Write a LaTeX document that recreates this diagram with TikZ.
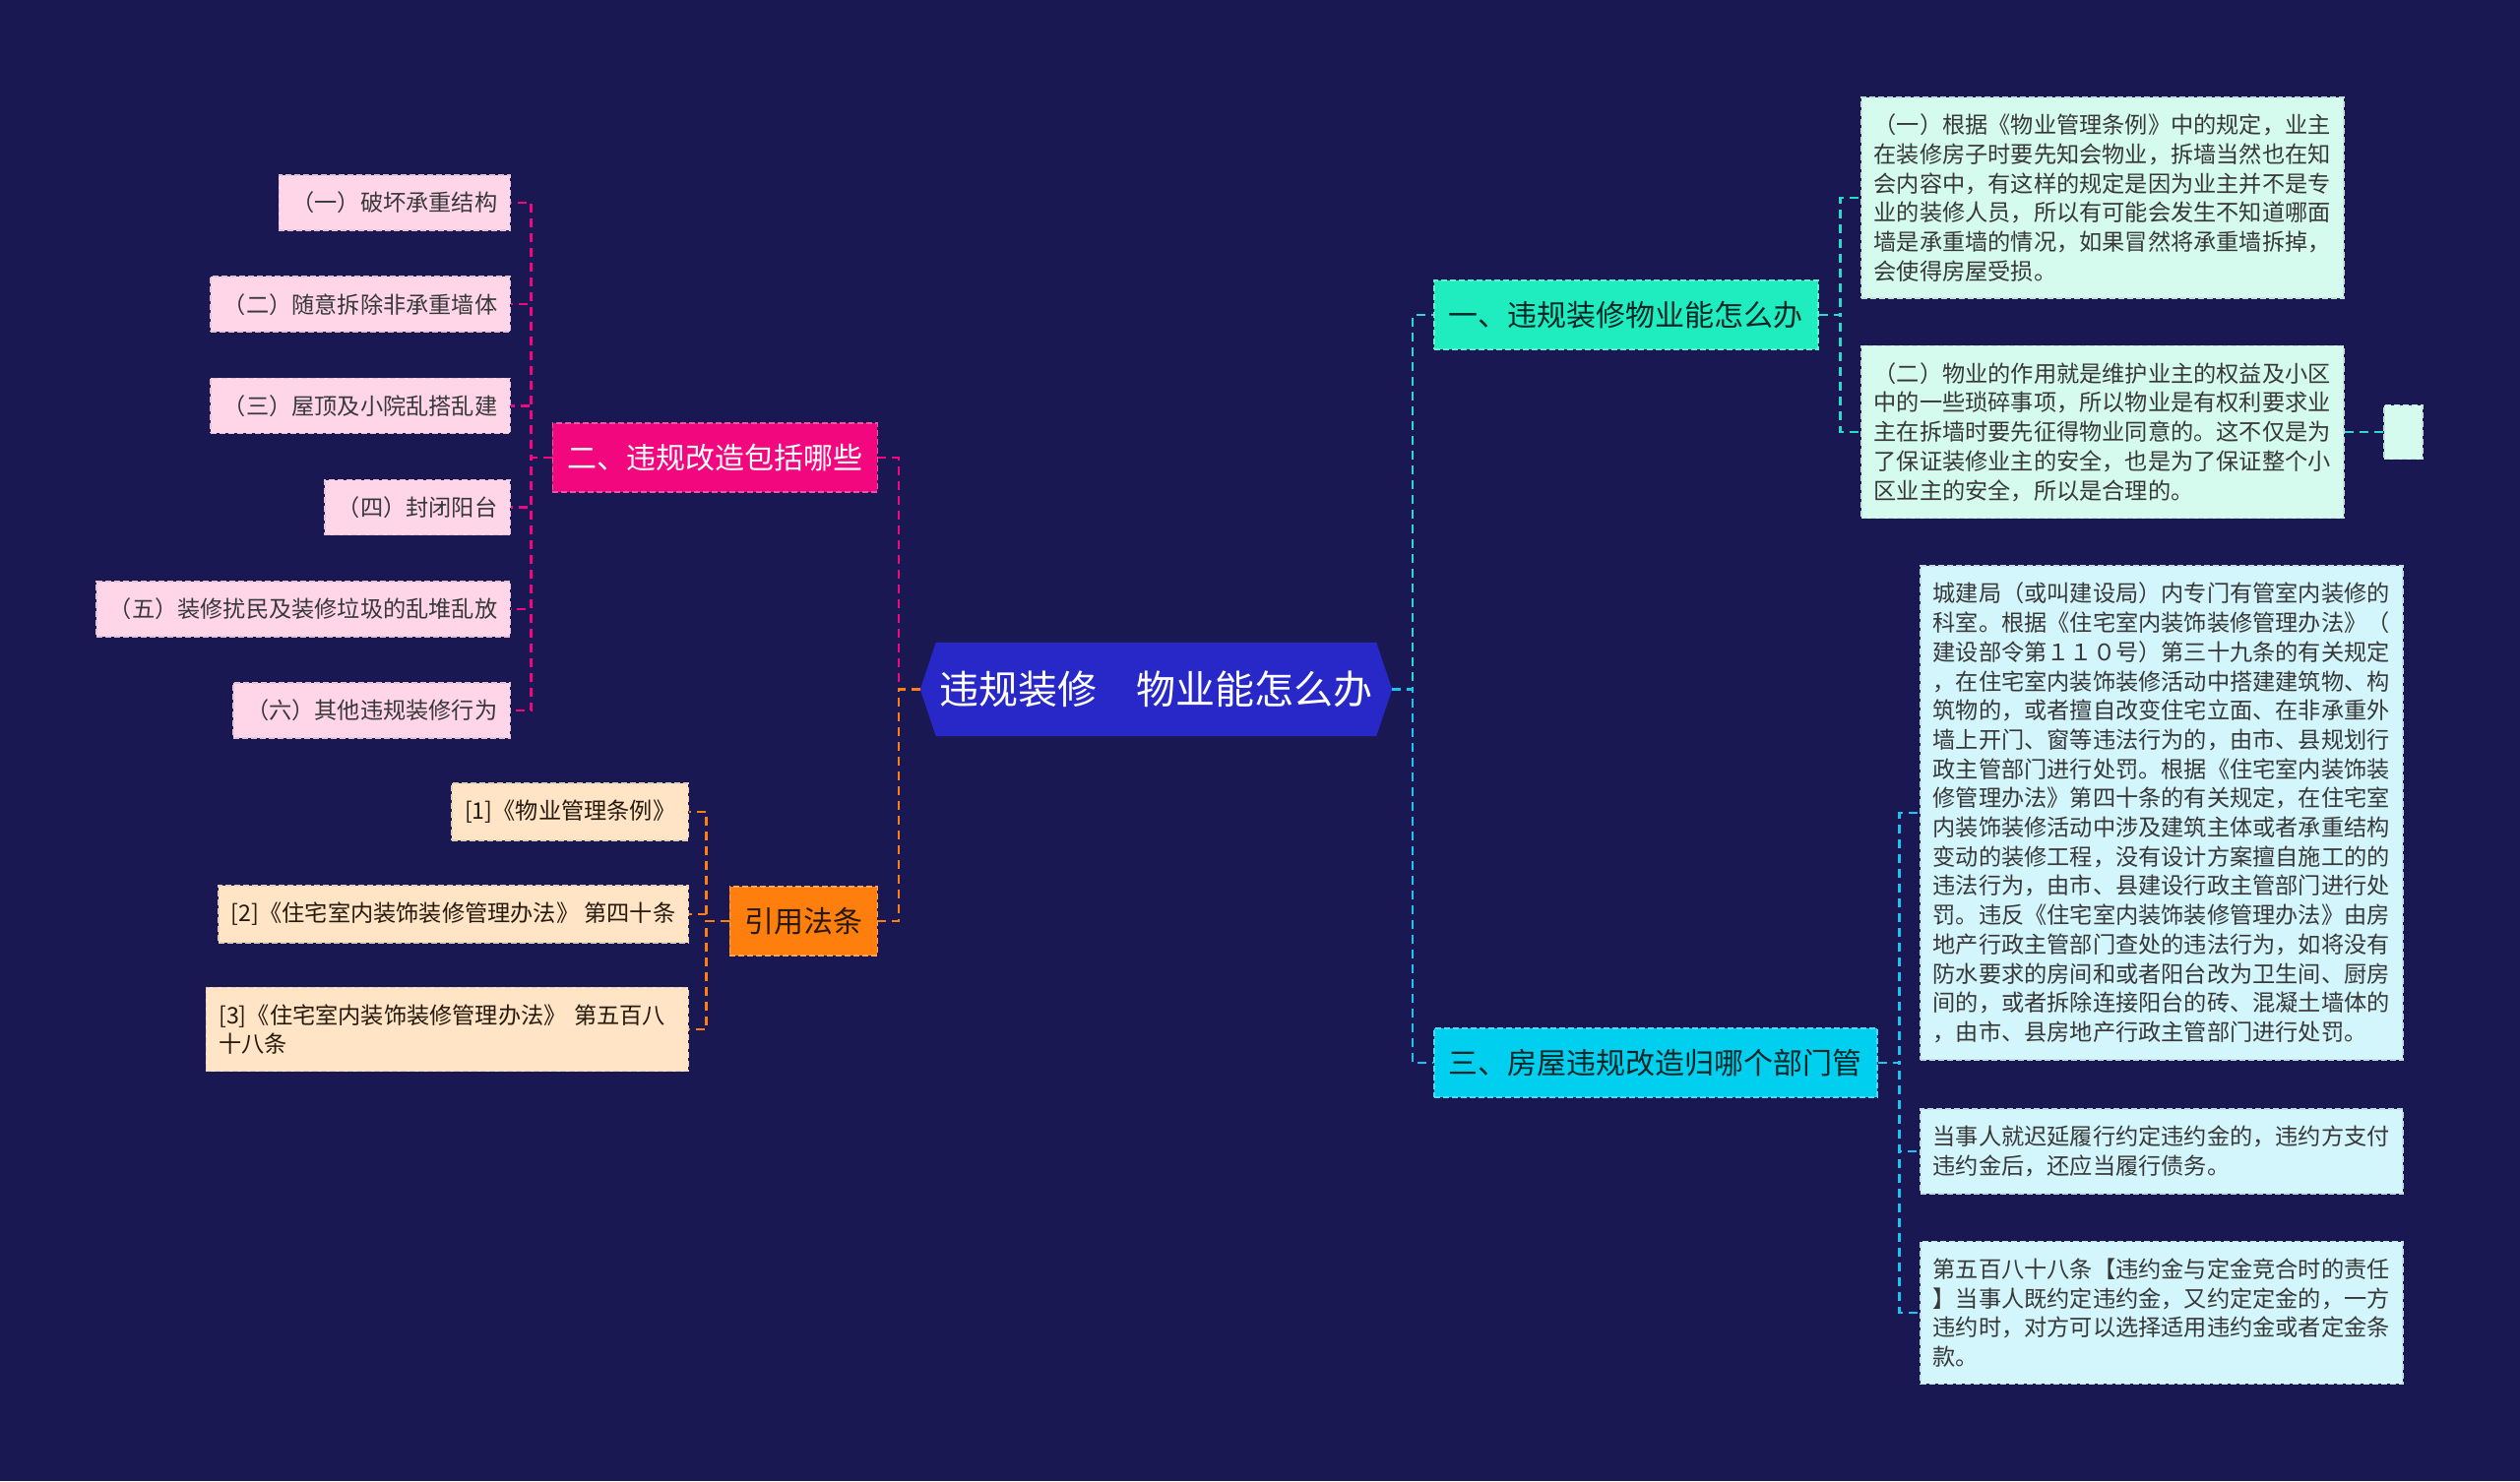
\documentclass[tikz,border=0pt]{standalone}
\usepackage{fontspec}
\setmainfont{Noto Sans CJK SC}
\usetikzlibrary{backgrounds}

\definecolor{bgblue}{HTML}{1A1852}
\definecolor{rootblue}{HTML}{2828C8}
\definecolor{rosered}{HTML}{F2077E}
\definecolor{lawor}{HTML}{FF7F0E}
\definecolor{mint}{HTML}{20EDBF}
\definecolor{mintline}{HTML}{2CD9CB}
\definecolor{skyc}{HTML}{00CFEF}
\definecolor{skyline}{HTML}{1EC3F0}
\definecolor{pinkleaf}{HTML}{FFD6E8}
\definecolor{peachleaf}{HTML}{FFE5C6}
\definecolor{mintleaf}{HTML}{D5FBEF}
\definecolor{skyleaf}{HTML}{D3F5FC}

\begin{document}
\begin{tikzpicture}[x=1pt, y=-1pt,
  leaf/.style={fill=#1, draw=#1!80!gray, dash pattern=on 6pt off 3pt, line width=1.5pt,
    inner xsep=13pt, inner ysep=17pt, minimum height=54pt, align=left,
    font=\fontsize{23.2}{29.7}\selectfont, text=black!78},
  topic/.style={fill=#1, draw=#1!70!white, dash pattern=on 6pt off 3pt, line width=1.5pt,
    inner xsep=15pt, minimum height=70pt, font=\fontsize{30}{36}\selectfont},
  link/.style={draw=#1, line width=2.5pt, dash pattern=on 9pt off 6pt},
]
  % 背景
  \begin{scope}[on background layer]
    \fill[bgblue] (0,0) rectangle (2560,1505);
  \end{scope}

  % 中心主题
  \node[minimum width=479pt, minimum height=95pt, text=white,
        font=\fontsize{40}{48}\selectfont] (root) at (1174.5,700.5) {违规装修　物业能怎么办};
  \begin{scope}[on background layer]
    \fill[rootblue] ([xshift=16pt]root.north west) -- ([xshift=-16pt]root.north east)
      -- (root.east) -- ([xshift=-16pt]root.south east)
      -- ([xshift=16pt]root.south west) -- (root.west) -- cycle;
  \end{scope}

  % 一级分支
  \node[topic=rosered, text=white, anchor=east] (l2) at (892,465) {二、违规改造包括哪些};
  \node[topic=lawor, text=black!80!brown, anchor=east] (law) at (892,936) {引用法条};
  \node[topic=mint, text=black!70!teal, anchor=west] (l1) at (1456,320) {一、违规装修物业能怎么办};
  \node[topic=skyc, text=black!70!teal, anchor=west] (l3) at (1456,1080) {三、房屋违规改造归哪个部门管};

  % 二、违规改造
  \foreach \txt [count=\i] in {（一）破坏承重结构, （二）随意拆除非承重墙体,
      （三）屋顶及小院乱搭乱建, （四）封闭阳台,
      （五）装修扰民及装修垃圾的乱堆乱放, （六）其他违规装修行为} {
    \node[leaf=pinkleaf, anchor=east] (w\i) at (519,{206+103.2*(\i-1)}) {\txt};
    \draw[link=rosered] (l2.west) -- ++(-21,0) |- (w\i.east);
  }

  % 引用法条
  \node[leaf=peachleaf, anchor=east, text=black!80!brown] (r1) at (700,825) {[1]《物业管理条例》};
  \node[leaf=peachleaf, anchor=east, text=black!80!brown] (r2) at (700,929) {[2]《住宅室内装饰装修管理办法》 第四十条};
  \node[leaf=peachleaf, anchor=east, text=black!80!brown, text width=464pt] (r3) at (700,1046) {[3]《住宅室内装饰装修管理办法》 第五百八\\十八条};
  \foreach \i in {1,2,3}
    \draw[link=lawor] (law.west) -- ++(-23,0) |- (r\i.east);

  % 一、物业能怎么办
  \node[leaf=mintleaf, anchor=west] (m1) at (1890,201) {（一）根据《物业管理条例》中的规定，业主\\在装修房子时要先知会物业，拆墙当然也在知\\会内容中，有这样的规定是因为业主并不是专\\业的装修人员，所以有可能会发生不知道哪面\\墙是承重墙的情况，如果冒然将承重墙拆掉，\\会使得房屋受损。};
  \node[leaf=mintleaf, anchor=west] (m2) at (1890,439) {（二）物业的作用就是维护业主的权益及小区\\中的一些琐碎事项，所以物业是有权利要求业\\主在拆墙时要先征得物业同意的。这不仅是为\\了保证装修业主的安全，也是为了保证整个小\\区业主的安全，所以是合理的。};
  \node[leaf=mintleaf, anchor=west, minimum width=39pt, minimum height=55pt, inner sep=0pt] (m3) at (2421,439) {};
  \foreach \i in {1,2}
    \draw[link=mintline] (l1.east) -- ++(22,0) |- (m\i.west);
  \draw[link=mintline] (m2.east) -- (m3.west);

  % 三、归哪个部门管
  \node[leaf=skyleaf, anchor=west] (c1) at (1950,826) {城建局（或叫建设局）内专门有管室内装修的\\科室。根据《住宅室内装饰装修管理办法》（\\建设部令第１１０号）第三十九条的有关规定\\，在住宅室内装饰装修活动中搭建建筑物、构\\筑物的，或者擅自改变住宅立面、在非承重外\\墙上开门、窗等违法行为的，由市、县规划行\\政主管部门进行处罚。根据《住宅室内装饰装\\修管理办法》第四十条的有关规定，在住宅室\\内装饰装修活动中涉及建筑主体或者承重结构\\变动的装修工程，没有设计方案擅自施工的的\\违法行为，由市、县建设行政主管部门进行处\\罚。违反《住宅室内装饰装修管理办法》由房\\地产行政主管部门查处的违法行为，如将没有\\防水要求的房间和或者阳台改为卫生间、厨房\\间的，或者拆除连接阳台的砖、混凝土墙体的\\，由市、县房地产行政主管部门进行处罚。};
  \node[leaf=skyleaf, anchor=west] (c2) at (1950,1170) {当事人就迟延履行约定违约金的，违约方支付\\违约金后，还应当履行债务。};
  \node[leaf=skyleaf, anchor=west] (c3) at (1950,1334) {第五百八十八条【违约金与定金竞合时的责任\\】当事人既约定违约金，又约定定金的，一方\\违约时，对方可以选择适用违约金或者定金条\\款。};
  \foreach \i in {1,2,3}
    \draw[link=skyline] (l3.east) -- ++(22,0) |- (c\i.west);

  % 中心到一级分支
  \draw[link=rosered] (root.west) -- ++(-22,0) |- (l2.east);
  \draw[link=lawor] (root.west) -- ++(-22,0) |- (law.east);
  \draw[link=mintline] (root.east) -- ++(21,0) |- (l1.west);
  \draw[link=skyline] (root.east) -- ++(21,0) |- (l3.west);
\end{tikzpicture}
\end{document}
